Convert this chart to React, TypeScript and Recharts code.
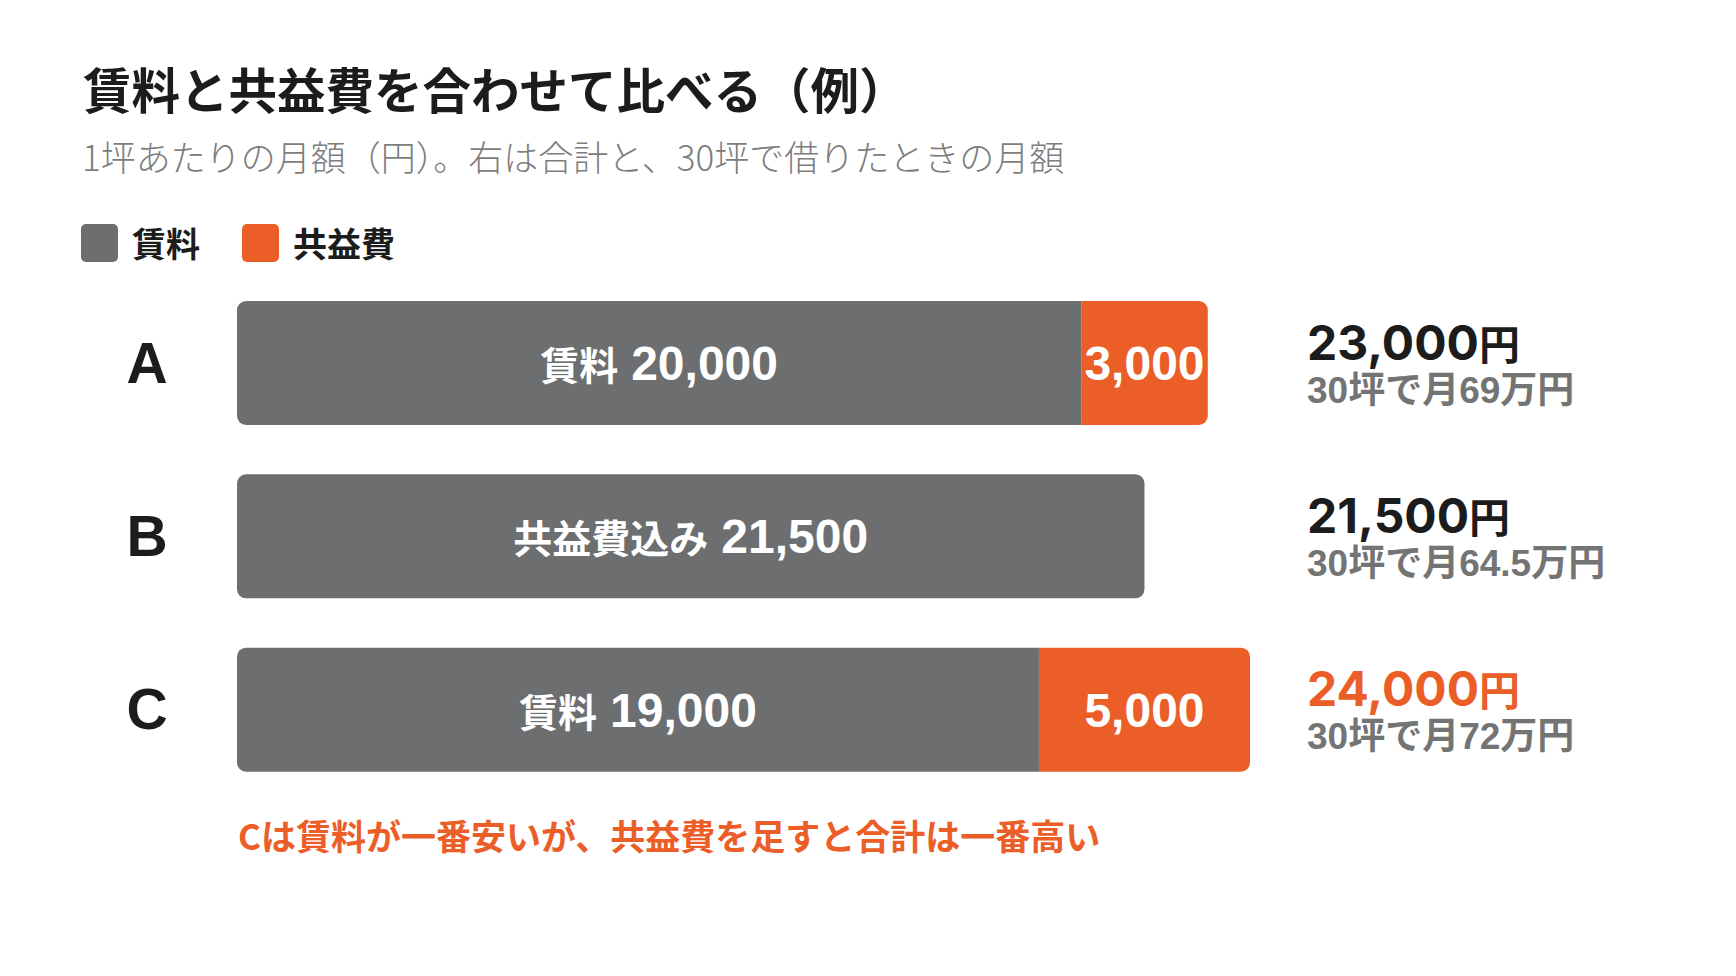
import React from 'react';
import { BarChart, Bar, XAxis, YAxis, LabelList, Legend } from 'recharts';

// ---- data ----
const categories = ['A', 'B', 'C'];
const rentValues = [20000, 21500, 19000];
const feeValues = [3000, 0, 5000];
const rentLabelPrefixes = ['賃料', '共益費込み', '賃料'];
const seriesNames = ['賃料', '共益費'];
const tsuboCount = 30;
const xDomainMax = 24000;

const titleText = '賃料と共益費を合わせて比べる（例）';
const subtitleText = '1坪あたりの月額（円）。右は合計と、30坪で借りたときの月額';
const noteText = 'Cは賃料が一番安いが、共益費を足すと合計は一番高い';

// ---- styles ----
const GRAY = '#6d6e70';
const ORANGE = '#eb5e28';
const DARK = '#1c1c1c';
const SUBGRAY = '#747474';
const R = 9;
const CJK = '"Noto Sans CJK JP", "Noto Sans CJK SC", sans-serif';
const LATIN = '"Liberation Sans", Arial, sans-serif';

const data = categories.map((c, i) => ({
  name: c,
  rent: rentValues[i],
  fee: feeValues[i],
  total: rentValues[i] + feeValues[i],
}));
const maxTotal = Math.max(...data.map((d) => d.total));
const fmt = (v: number) => v.toLocaleString('en-US');

function rectPath(x: number, y: number, w: number, h: number, rl: number, rr: number) {
  let d = `M${x + rl},${y}H${x + w - rr}`;
  if (rr) d += `A${rr},${rr} 0 0 1 ${x + w},${y + rr}`;
  d += `V${y + h - rr}`;
  if (rr) d += `A${rr},${rr} 0 0 1 ${x + w - rr},${y + h}`;
  d += `H${x + rl}`;
  if (rl) d += `A${rl},${rl} 0 0 1 ${x},${y + h - rl}`;
  d += `V${y + rl}`;
  if (rl) d += `A${rl},${rl} 0 0 1 ${x + rl},${y}`;
  return d + 'Z';
}

const RentShape = (props: any) => {
  const { x, y, width, height, fill } = props;
  if (!width || width <= 0) return null;
  const idx = props.index ?? categories.indexOf(props.payload?.name);
  const fee = props.payload?.fee ?? feeValues[idx];
  return <path d={rectPath(x, y, width, height, R, fee > 0 ? 0 : R)} fill={fill} />;
};

const FeeShape = (props: any) => {
  const { x, y, width, height, fill } = props;
  if (!width || width <= 0) return null;
  return <path d={rectPath(x, y, width, height, 0, R)} fill={fill} />;
};

const getBox = (props: any) => {
  const vb = props.viewBox && props.viewBox.width !== undefined ? props.viewBox : props;
  return { x: Number(vb.x), y: Number(vb.y), w: Number(vb.width), h: Number(vb.height) };
};

const RentLabel = (props: any) => {
  const { x, y, w, h } = getBox(props);
  const idx = props.index;
  const value = rentValues[idx];
  if (value === undefined || !(w > 0)) return null;
  return (
    <text x={x + w / 2} y={y + h / 2 + 17} textAnchor="middle" fill="#ffffff" fontWeight={700}>
      <tspan fontFamily={CJK} fontSize={39}>{rentLabelPrefixes[idx]}</tspan>
      <tspan fontFamily={LATIN} fontSize={48} dx={13}>{fmt(value)}</tspan>
    </text>
  );
};

const FeeLabel = (props: any) => {
  const { x, y, w, h } = getBox(props);
  const idx = props.index;
  const value = feeValues[idx];
  if (!value || !(w > 0)) return null;
  return (
    <text x={x + w / 2} y={y + h / 2 + 17} textAnchor="middle" fill="#ffffff" fontWeight={700} fontFamily={LATIN} fontSize={48}>
      {fmt(value)}
    </text>
  );
};

const LetterTick = (props: any) => {
  const { x, y, payload } = props;
  return (
    <text x={x} y={y + 20} textAnchor="middle" fill={DARK} fontFamily={LATIN} fontWeight={700} fontSize={57}>
      {payload.value}
    </text>
  );
};

const TotalTick = (props: any) => {
  const { x, y, payload } = props;
  const idx = categories.indexOf(payload.value);
  const d = data[idx];
  if (!d) return null;
  const highlight = d.total === maxTotal;
  const monthly = (d.total * tsuboCount) / 10000;
  return (
    <g>
      <text x={x} y={y - 3} textAnchor="start" fill={highlight ? ORANGE : DARK} fontWeight={700}>
        <tspan fontFamily='Inter, "Liberation Sans", sans-serif' fontSize={48}>{fmt(d.total)}</tspan>
        <tspan fontFamily={CJK} fontSize={41}>円</tspan>
      </text>
      <text x={x} y={y + 40} textAnchor="start" fill={SUBGRAY} fontWeight={700} fontFamily={`${LATIN}, ${CJK}`} fontSize={37}>
        {`${tsuboCount}坪で月${monthly}万円`}
      </text>
    </g>
  );
};

const LegendContent = (props: any) => {
  const payload = [...(props.payload || [])].sort(
    (a: any, b: any) => seriesNames.indexOf(a.value) - seriesNames.indexOf(b.value)
  );
  return (
    <div style={{ display: 'flex', alignItems: 'center' }}>
      {payload.map((p: any, i: number) => (
        <div key={i} style={{ display: 'flex', alignItems: 'center', marginRight: 42 }}>
          <div style={{ width: 37, height: 38, borderRadius: 5, background: p.color, marginRight: 14 }} />
          <span style={{ fontFamily: CJK, fontWeight: 700, fontSize: 34, color: DARK, lineHeight: '38px' }}>{p.value}</span>
        </div>
      ))}
    </div>
  );
};

export default function App() {
  return (
    <div style={{ position: 'absolute', left: 0, top: 0, width: 1736, height: 976, background: '#ffffff', overflow: 'hidden' }}>
      <BarChart
        width={1736}
        height={976}
        data={data}
        layout="vertical"
        margin={{ top: 276, right: 86, bottom: 180, left: 0 }}
      >
        <XAxis type="number" domain={[0, xDomainMax]} hide />
        <YAxis
          yAxisId="left"
          type="category"
          dataKey="name"
          width={237}
          axisLine={false}
          tickLine={false}
          tickSize={0}
          tickMargin={90}
          tick={<LetterTick />}
        />
        <YAxis
          yAxisId="right"
          orientation="right"
          type="category"
          dataKey="name"
          width={400}
          axisLine={false}
          tickLine={false}
          tickSize={0}
          tickMargin={57}
          tick={<TotalTick />}
        />
        <Legend
          layout="horizontal"
          verticalAlign="middle"
          align="center"
          wrapperStyle={{ top: 224, left: 81, width: 'auto', height: 'auto' }}
          content={<LegendContent />}
        />
        <Bar
          yAxisId="left"
          dataKey="rent"
          name={seriesNames[0]}
          stackId="s"
          fill={GRAY}
          barSize={124}
          shape={<RentShape />}
          isAnimationActive={false}
        >
          <LabelList dataKey="rent" content={<RentLabel />} />
        </Bar>
        <Bar
          yAxisId="left"
          dataKey="fee"
          name={seriesNames[1]}
          stackId="s"
          fill={ORANGE}
          barSize={124}
          shape={<FeeShape />}
          isAnimationActive={false}
        >
          <LabelList dataKey="fee" content={<FeeLabel />} />
        </Bar>
      </BarChart>
      <svg width={1736} height={976} style={{ position: 'absolute', left: 0, top: 0, pointerEvents: 'none' }}>
        <text x={83} y={109} fontFamily={CJK} fontWeight={700} fontSize={48.5} fill={DARK}>{titleText}</text>
        <text x={82} y={171} fontFamily={CJK} fontWeight={300} fontSize={35} fill="#7d7d7d">{subtitleText}</text>
        <text x={238} y={850} fontFamily={CJK} fontWeight={700} fontSize={35} fill={ORANGE}>{noteText}</text>
      </svg>
    </div>
  );
}
